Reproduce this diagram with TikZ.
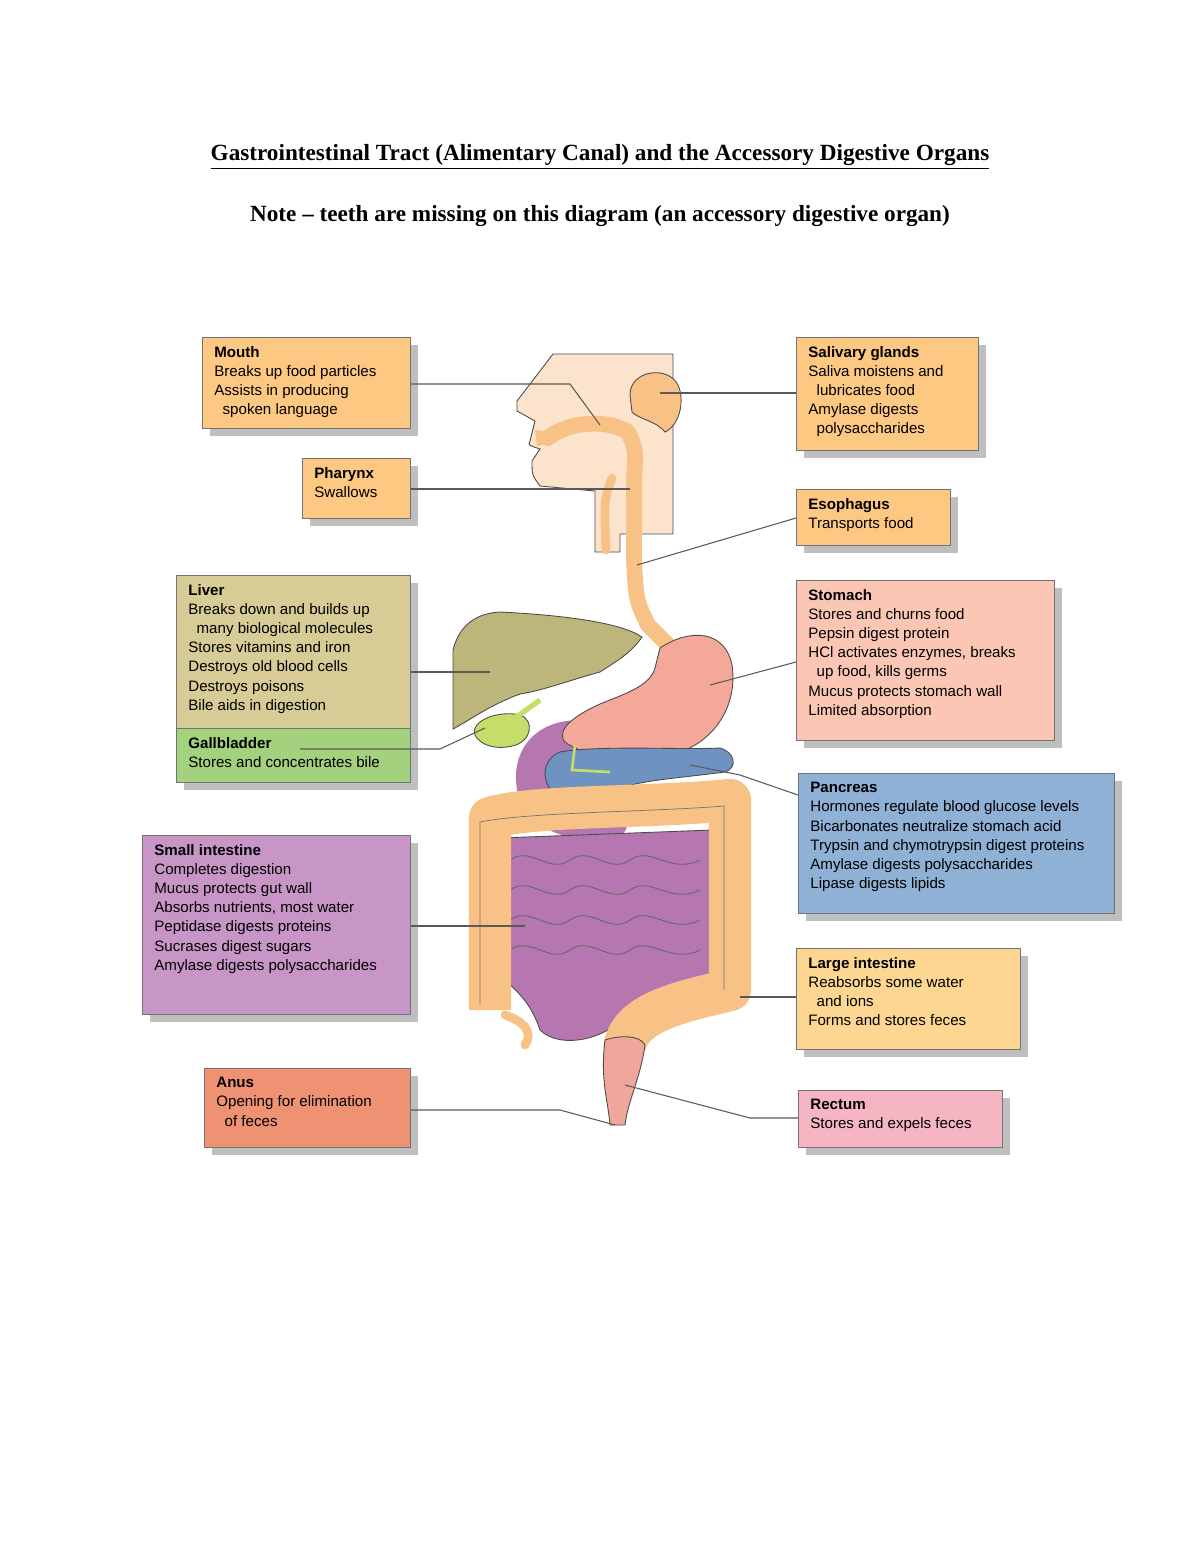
\documentclass[tikz,border=0pt]{standalone}
\usepackage{fontspec}
\setmainfont{Liberation Sans}
\newfontfamily\titlefont{Liberation Serif}
\usetikzlibrary{shadows}
\definecolor{cOr}{HTML}{FDC882}
\definecolor{cKh}{HTML}{D8CC96}
\definecolor{cGr}{HTML}{A3D17E}
\definecolor{cPu}{HTML}{C896C6}
\definecolor{cSa}{HTML}{EE9273}
\definecolor{cPk}{HTML}{FBC6B4}
\definecolor{cBl}{HTML}{8FB1D6}
\definecolor{cLo}{HTML}{FDD792}
\definecolor{cRe}{HTML}{F5B5C2}
\definecolor{skin}{HTML}{FCE3CC}
\definecolor{tube}{HTML}{F8C286}
\definecolor{liver}{HTML}{BDB67A}
\definecolor{gall}{HTML}{C5DE6A}
\definecolor{stom}{HTML}{F4A89A}
\definecolor{panc}{HTML}{6F93C0}
\definecolor{sint}{HTML}{B676B0}
\definecolor{rect}{HTML}{F0A69A}
\tikzset{
  box/.style={draw=black!55,line width=0.7pt,inner sep=0pt,anchor=north west,
    drop shadow={shadow xshift=4pt,shadow yshift=-4pt,fill=black,opacity=0.25}},
  txt/.style={anchor=north west,align=left,inner sep=0pt,
    font=\fontsize{8.6}{10.9}\selectfont},
  lead/.style={draw=black!65,line width=0.6pt},
  organ/.style={draw=black!70,line width=0.5pt},
}
\newcommand\ibox[7]{%
  \node[box,fill=#6,minimum width={(#4-#2)*0.02cm},minimum height={(#5-#3)*0.02cm}] (#1) at (#2,#3) {};
  \node[txt] (#1T) at (#2+12,#3+9) {#7};}
\newcommand\ind{\hspace{0.55em}}
\begin{document}
\begin{tikzpicture}[x=0.02cm,y=-0.02cm]
\useasboundingbox (0,0) rectangle (1200,1553);
\fill[white] (0,0) rectangle (1200,1553);
% titles
\node[font=\titlefont\fontsize{13.2}{15}\selectfont\bfseries] (title) at (600,157) {\underline{Gastrointestinal Tract (Alimentary Canal) and the Accessory Digestive Organs}};
\node[font=\titlefont\fontsize{13.2}{15}\selectfont\bfseries] (note) at (600,216) {Note – teeth are missing on this diagram (an accessory digestive organ)};

% ===== anatomy =====
% head
\path[organ,fill=skin] (553,354) -- (673,354) -- (673,534) -- (620,534) -- (620,552) -- (595,552) -- (595,491)
  -- (540,486) .. controls (532,475) .. (532,461) -- (540,449) .. controls (528,445) .. (530,441)
  -- (535,421) -- (517,411) -- (517,401) -- cycle;
% oral cavity / pharynx / esophagus
\draw[tube,line width=9pt,line cap=round,line join=round] (548,438) .. controls (570,420) and (610,420) .. (628,432)
  .. controls (636,450) .. (634,480) -- (634,560) .. controls (636,600) .. (648,625) -- (668,645);
\draw[tube,line width=5pt,line cap=round] (612,478) .. controls (604,500) .. (606,550);
\fill[tube] (535,430) -- (548,432) -- (548,444) -- (537,446) -- cycle;
% salivary gland
\path[organ,fill=tube] (630,395) .. controls (630,370) and (668,365) .. (678,385)
  .. controls (685,400) and (680,425) .. (665,432) .. controls (655,420) and (640,420) .. (632,412) -- cycle;
% liver
\path[organ,fill=liver] (453,729) -- (453,650) .. controls (460,622) and (480,613) .. (500,612)
  .. controls (560,615) and (620,622) .. (642,637) .. controls (630,655) and (610,665) .. (600,672)
  .. controls (570,680) and (545,690) .. (520,694) .. controls (490,705) and (470,720) .. (453,729) -- cycle;
% gallbladder
\path[organ,fill=gall] (475,735) .. controls (470,720) and (500,710) .. (520,715)
  .. controls (535,720) and (532,742) .. (512,746) .. controls (495,750) and (480,745) .. (475,735) -- cycle;
\draw[gall,line width=3pt] (515,718) -- (540,700);
% duodenum
\draw[sint,line width=20pt,line cap=round] (585,738) .. controls (545,735) and (528,760) .. (535,790)
  .. controls (542,815) and (575,825) .. (610,822);
% stomach
\path[organ,fill=stom] (660,648) .. controls (690,628) and (725,630) .. (732,665)
  .. controls (738,705) and (715,740) .. (680,752) .. controls (640,765) and (590,760) .. (565,742)
  .. controls (555,730) and (575,715) .. (600,704) .. controls (630,692) and (650,685) .. (655,668) -- cycle;
% pancreas
\path[organ,fill=panc] (560,752) .. controls (600,745) and (680,750) .. (720,748)
  .. controls (735,752) and (738,768) .. (725,772) .. controls (680,778) and (640,780) .. (615,790)
  .. controls (600,805) and (575,808) .. (555,795) .. controls (540,780) and (542,760) .. (560,752) -- cycle;
\draw[gall,line width=1.5pt] (575,745) -- (572,770) -- (610,772);
% small intestine
\path[organ,fill=sint] (500,838) -- (712,830) -- (712,975) .. controls (690,990) and (650,995) .. (630,1010)
  .. controls (610,1040) and (560,1050) .. (540,1030) .. controls (530,1000) and (515,990) .. (500,975) -- cycle;
\foreach \yy in {860,890,920,950}{
  \draw[black!60,line width=0.5pt] (510,\yy) .. controls (530,\yy-15) and (550,\yy+15) .. (570,\yy)
    .. controls (590,\yy-15) and (610,\yy+15) .. (630,\yy) .. controls (650,\yy-15) and (670,\yy+15) .. (700,\yy);}
% large intestine
\draw[tube,line width=24pt,line join=round] (490,1010) -- (490,818) .. controls (530,805) and (650,808) .. (730,800)
  -- (730,990) .. controls (690,1000) and (632,1010) .. (625,1045);
\draw[black!55,line width=0.4pt] (480,1005) -- (480,822) .. controls (530,812) and (650,812) .. (724,806) -- (724,990);
\draw[tube,line width=5pt,line cap=round] (505,1015) .. controls (520,1020) and (535,1030) .. (525,1045);
% rectum
\path[organ,fill=rect] (605,1040) .. controls (620,1035) and (640,1035) .. (645,1045)
  .. controls (640,1080) and (628,1100) .. (625,1125) -- (610,1125) .. controls (608,1100) and (600,1080) .. (605,1040) -- cycle;

% organ anchor coordinates
\coordinate (oMouth) at (600,425);
\coordinate (oSal) at (660,393);
\coordinate (oPhar) at (630,489);
\coordinate (oEso) at (637,565);
\coordinate (oLiv) at (490,672);
\coordinate (oGall) at (485,728);
\coordinate (oStom) at (710,685);
\coordinate (oPanc) at (690,765);
\coordinate (oSI) at (525,926);
\coordinate (oLI) at (740,997);
\coordinate (oAnus) at (615,1125);
\coordinate (oRect) at (625,1085);

% ===== boxes =====
\ibox{mouth}{202}{337}{410}{428}{cOr}{\textbf{Mouth}\\Breaks up food particles\\Assists in producing\\\ind spoken language}
\ibox{phar}{302}{458}{410}{518}{cOr}{\textbf{Pharynx}\\Swallows}
\ibox{liver}{176}{575}{410}{728}{cKh}{\textbf{Liver}\\Breaks down and builds up\\\ind many biological molecules\\Stores vitamins and iron\\Destroys old blood cells\\Destroys poisons\\Bile aids in digestion}
\ibox{gall}{176}{728}{410}{782}{cGr}{\textbf{Gallbladder}\\Stores and concentrates bile}
\ibox{si}{142}{835}{410}{1014}{cPu}{\textbf{Small intestine}\\Completes digestion\\Mucus protects gut wall\\Absorbs nutrients, most water\\Peptidase digests proteins\\Sucrases digest sugars\\Amylase digests polysaccharides}
\ibox{anus}{204}{1068}{410}{1147}{cSa}{\textbf{Anus}\\Opening for elimination\\\ind of feces}
\ibox{sal}{796}{337}{978}{450}{cOr}{\textbf{Salivary glands}\\Saliva moistens and\\\ind lubricates food\\Amylase digests\\\ind polysaccharides}
\ibox{eso}{796}{489}{950}{545}{cOr}{\textbf{Esophagus}\\Transports food}
\ibox{stom}{796}{580}{1054}{740}{cPk}{\textbf{Stomach}\\Stores and churns food\\Pepsin digest protein\\HCl activates enzymes, breaks\\\ind up food, kills germs\\Mucus protects stomach wall\\Limited absorption}
\ibox{panc}{798}{773}{1114}{913}{cBl}{\textbf{Pancreas}\\Hormones regulate blood glucose levels\\Bicarbonates neutralize stomach acid\\Trypsin and chymotrypsin digest proteins\\Amylase digests polysaccharides\\Lipase digests lipids}
\ibox{li}{796}{948}{1020}{1049}{cLo}{\textbf{Large intestine}\\Reabsorbs some water\\\ind and ions\\Forms and stores feces}
\ibox{rect}{798}{1090}{1002}{1147}{cRe}{\textbf{Rectum}\\Stores and expels feces}

% ===== leaders =====
\draw[lead] (mouth.east|-0,384) -- (570,384) -- (oMouth);
\draw[lead] (sal.west|-0,393) -- (oSal);
\draw[lead] (phar.east|-0,489) -- (oPhar);
\draw[lead] (eso.west|-0,518) -- (oEso);
\draw[lead] (liver.east|-0,672) -- (oLiv);
\draw[lead] (300,749) -- (440,749) -- (oGall);
\draw[lead] (stom.west|-0,662) -- (oStom);
\draw[lead] (panc.west|-0,795) -- (740,775) -- (oPanc);
\draw[lead] (si.east|-0,926) -- (oSI);
\draw[lead] (li.west|-0,997) -- (oLI);
\draw[lead] (anus.east|-0,1110) -- (560,1110) -- (oAnus);
\draw[lead] (rect.west|-0,1118) -- (750,1118) -- (oRect);
\end{tikzpicture}
\end{document}
